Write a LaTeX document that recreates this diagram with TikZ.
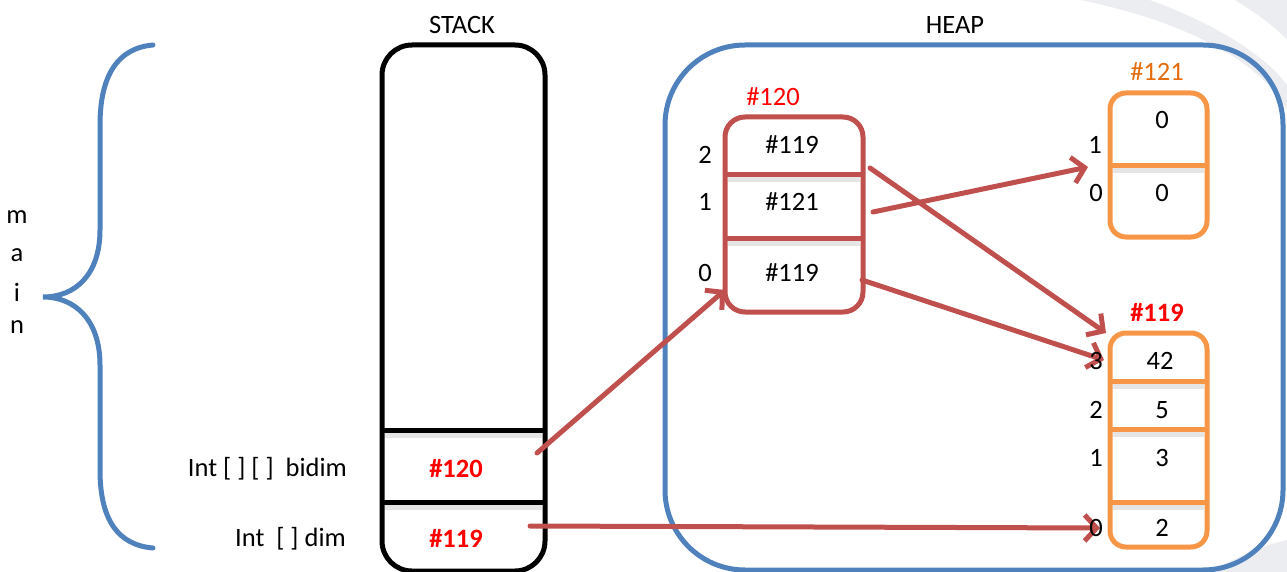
\documentclass[tikz,border=0pt]{standalone}
\usepackage{fontspec}
\setmainfont{Carlito}
\usetikzlibrary{arrows.meta}
\definecolor{braceblue}{RGB}{79,129,189}
\definecolor{cellred}{RGB}{192,80,77}
\definecolor{cellorange}{RGB}{247,150,70}
\definecolor{labelorange}{RGB}{228,108,10}
\definecolor{swoosh}{RGB}{236,237,240}
\begin{document}
\begin{tikzpicture}[x=1pt,y=-1pt,
  font=\fontsize{26.5}{30}\selectfont,
  txt/.style={inner sep=0pt,anchor=center},
  idx/.style={txt},
  redlbl/.style={txt,text=red,font=\fontsize{26.5}{30}\selectfont\bfseries},
  framebox/.style={draw,line width=5pt,inner sep=0pt},
  divider/.style={line width=5pt},
  dshadow/.style={line width=5pt,black!10},
  ptr/.style={draw=cellred,line width=5pt,line cap=round,
    -{Straight Barb[length=12pt,width=26pt,line width=5pt]}}]
\useasboundingbox (0,0) rectangle (1287,572);

% faint background swoosh, top right and bottom right
\fill[swoosh] (1080,0) .. controls (1180,20) and (1260,60) .. (1287,110)
  -- (1287,0) -- cycle;
\fill[white] (1150,0) .. controls (1220,25) and (1270,60) .. (1287,85)
  -- (1287,40) .. controls (1270,22) and (1250,10) .. (1235,0) -- cycle;
\fill[swoosh] (1210,572) .. controls (1240,555) and (1265,545) .. (1287,540)
  -- (1287,572) -- cycle;

% brace grouping the frame of main
\draw[braceblue,line width=5pt,line cap=round]
  (153,45) .. controls (118,48) and (100,75) .. (100,125)
  -- (100,230) .. controls (100,275) and (75,297) .. (43,297)
  .. controls (75,297) and (100,320) .. (100,365)
  -- (100,470) .. controls (100,520) and (118,545) .. (153,548);

% ---- frames ----
% stack column
\node[framebox,rounded corners=30pt,minimum width=163pt,minimum height=526pt]
  (stack) at (463.5,308) {};
\draw[dshadow] (385,435) -- (542,435);
\draw[dshadow] (385,507) -- (542,507);
\draw[divider] (382,430) -- (545,430);
\draw[divider] (382,502) -- (545,502);

% heap area
\node[draw=braceblue,line width=5pt,rounded corners=80pt,inner sep=0pt,
  minimum width=618pt,minimum height=525pt] (heap) at (974,307.5) {};

% array #120
\node[framebox,draw=cellred,rounded corners=20pt,minimum width=138pt,
  minimum height=195pt] (a120) at (794,214.5) {};
\draw[dshadow] (728,180) -- (860,180);
\draw[dshadow] (728,243) -- (860,243);
\draw[divider,cellred] (725,175) -- (863,175);
\draw[divider,cellred] (725,238) -- (863,238);

% array #121
\node[framebox,draw=cellorange,rounded corners=16pt,minimum width=97pt,
  minimum height=144pt] (a121) at (1158.5,165) {};
\draw[dshadow] (1113,171) -- (1204,171);
\draw[divider,cellorange] (1110,166) -- (1207,166);

% array #119
\node[framebox,draw=cellorange,rounded corners=16pt,minimum width=97pt,
  minimum height=214pt] (a119) at (1158.5,440) {};
\draw[dshadow] (1113,386) -- (1204,386);
\draw[dshadow] (1113,434) -- (1204,434);
\draw[dshadow] (1113,507) -- (1204,507);
\draw[divider,cellorange] (1110,381) -- (1207,381);
\draw[divider,cellorange] (1110,429) -- (1207,429);
\draw[divider,cellorange] (1110,502) -- (1207,502);

% ---- references ----
\coordinate (pbidim) at (537,453);
\coordinate (pdim) at (530,526);
\coordinate (in120) at (725,290);
\coordinate (p120a) at (870,168);
\coordinate (p120b) at (873,212);
\coordinate (p120c) at (862,280);
\coordinate (in121) at (1088,167);
\coordinate (in119top) at (1106,333);
\coordinate (in119a) at (1104,360);
\coordinate (in119d) at (1100,528);
\draw[ptr] (pbidim) -- (in120);
\draw[ptr] (p120a) -- (in119top);
\draw[ptr] (p120b) -- (in121);
\draw[ptr] (p120c) -- (in119a);
\draw[ptr] (pdim) -- (in119d);

% ---- texts ----
\node[txt] (m1) at (17,217) {m};
\node[txt] (m2) at (17,255) {a};
\node[txt] (m3) at (17,292) {i};
\node[txt] (m4) at (17,327) {n};

\node[txt] (stacklbl) at (462,25) {STACK};
\node[redlbl] (sbidim) at (456,469) {\#120};
\node[redlbl] (sdim) at (456,538) {\#119};
\node[txt,anchor=east] (lbidim) at (347,469) {Int [ ] [ ]~ bidim};
\node[txt,anchor=east] (ldim) at (346,539) {Int~ [ ] dim};

\node[txt] (heaplbl) at (955,25) {HEAP};

\node[txt,text=red] (l120) at (773,97) {\#120};
\node[txt] (c120a) at (792,145) {\#119};
\node[txt] (c120b) at (792,202) {\#121};
\node[txt] (c120c) at (792,273) {\#119};
\node[idx] (i120a) at (705,155) {2};
\node[idx] (i120b) at (705,202) {1};
\node[idx] (i120c) at (705,273) {0};

\node[txt,text=labelorange] (l121) at (1157,72) {\#121};
\node[txt] (c121a) at (1162,120) {0};
\node[txt] (c121b) at (1162,193) {0};
\node[idx] (i121a) at (1095,145) {1};
\node[idx] (i121b) at (1096,193) {0};

\node[redlbl] (l119) at (1157,312) {\#119};
\node[txt] (c119a) at (1160,361) {42};
\node[txt] (c119b) at (1162,410) {5};
\node[txt] (c119c) at (1162,458) {3};
\node[txt] (c119d) at (1162,528) {2};
\node[idx] (i119a) at (1096,361) {3};
\node[idx] (i119b) at (1096,410) {2};
\node[idx] (i119c) at (1096,458) {1};
\node[idx] (i119d) at (1096,528) {0};
\end{tikzpicture}
\end{document}
